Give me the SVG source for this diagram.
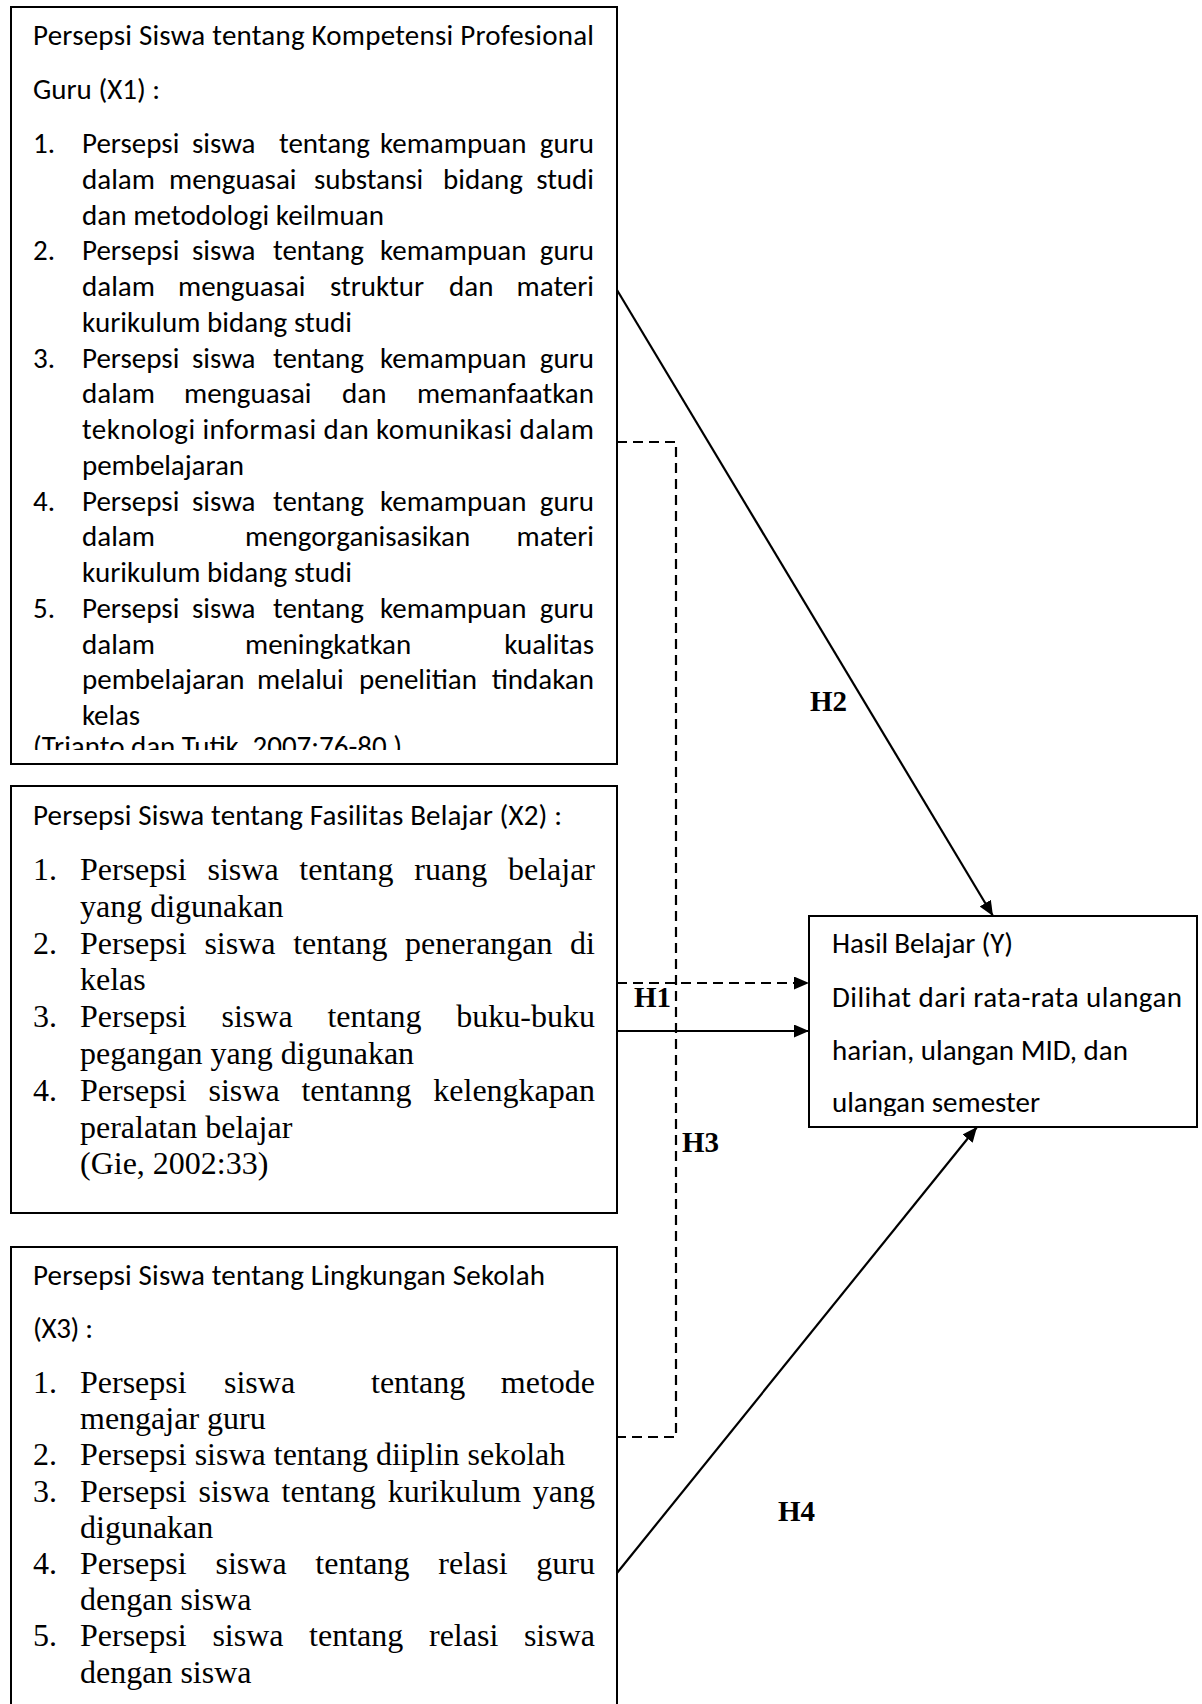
<svg xmlns="http://www.w3.org/2000/svg" width="1202" height="1704" viewBox="0 0 1202 1704">
<style>
.box{fill:#fff;stroke:#000;stroke-width:2}
.c{font-family:"Carlito","Lato","Liberation Sans",sans-serif;font-size:29px;fill:#000}
.t{font-family:"Liberation Serif","Times New Roman",serif;font-size:32px;fill:#000}
.e{text-anchor:end}
.lbl{font-family:"Liberation Serif","Times New Roman",serif;font-size:29px;font-weight:bold;fill:#000}
.ln{fill:none;stroke:#000;stroke-width:2.2}
.dash{stroke-dasharray:10 6}
</style>
<defs>
<marker id="arr" markerUnits="userSpaceOnUse" markerWidth="16" markerHeight="14" refX="15" refY="6.5" orient="auto">
<path d="M0,0 L15,6.5 L0,13 z" fill="#000"/>
</marker>
<clipPath id="clip1"><rect x="11" y="7" width="606" height="743"/></clipPath>
<clipPath id="clipY"><rect x="809" y="916" width="388" height="200"/></clipPath>
</defs>
<rect width="1202" height="1704" fill="#fff"/>

<g id="node-x1">
<rect class="box" x="11" y="7" width="606" height="757"/>
<text class="c" x="33" y="45" textLength="561" lengthAdjust="spacing">Persepsi Siswa tentang Kompetensi Profesional</text>
<text class="c" x="33" y="99" textLength="127" lengthAdjust="spacing">Guru (X1) :</text>
<text class="c" x="33" y="153">1.</text>
<text class="c" y="153"><tspan x="82">Persepsi</tspan><tspan x="192">siswa</tspan><tspan x="279">tentang</tspan><tspan x="380">kemampuan</tspan></text><text class="c e" x="594" y="153">guru</text>
<text class="c" y="188.75"><tspan x="82">dalam</tspan><tspan x="169">menguasai</tspan><tspan x="314">substansi</tspan><tspan x="443">bidang</tspan></text><text class="c e" x="594" y="188.75">studi</text>
<text class="c" x="82" y="224.5" textLength="302" lengthAdjust="spacing">dan metodologi keilmuan</text>
<text class="c" x="33" y="260.25">2.</text>
<text class="c" y="260.25"><tspan x="82">Persepsi</tspan><tspan x="192">siswa</tspan><tspan x="273">tentang</tspan><tspan x="380">kemampuan</tspan></text><text class="c e" x="594" y="260.25">guru</text>
<text class="c" y="296"><tspan x="82">dalam</tspan><tspan x="178">menguasai</tspan><tspan x="330">struktur</tspan><tspan x="449">dan</tspan></text><text class="c e" x="594" y="296">materi</text>
<text class="c" x="82" y="331.75" textLength="270" lengthAdjust="spacing">kurikulum bidang studi</text>
<text class="c" x="33" y="367.5">3.</text>
<text class="c" y="367.5"><tspan x="82">Persepsi</tspan><tspan x="192">siswa</tspan><tspan x="273">tentang</tspan><tspan x="380">kemampuan</tspan></text><text class="c e" x="594" y="367.5">guru</text>
<text class="c" y="403.25"><tspan x="82">dalam</tspan><tspan x="184">menguasai</tspan><tspan x="342">dan</tspan></text><text class="c e" x="594" y="403.25">memanfaatkan</text>
<text class="c" x="82" y="439" textLength="512" lengthAdjust="spacing">teknologi informasi dan komunikasi dalam</text>
<text class="c" x="82" y="474.75" textLength="162" lengthAdjust="spacing">pembelajaran</text>
<text class="c" x="33" y="510.5">4.</text>
<text class="c" y="510.5"><tspan x="82">Persepsi</tspan><tspan x="192">siswa</tspan><tspan x="273">tentang</tspan><tspan x="380">kemampuan</tspan></text><text class="c e" x="594" y="510.5">guru</text>
<text class="c" y="546.25"><tspan x="82">dalam</tspan><tspan x="245">mengorganisasikan</tspan></text><text class="c e" x="594" y="546.25">materi</text>
<text class="c" x="82" y="582" textLength="270" lengthAdjust="spacing">kurikulum bidang studi</text>
<text class="c" x="33" y="617.75">5.</text>
<text class="c" y="617.75"><tspan x="82">Persepsi</tspan><tspan x="192">siswa</tspan><tspan x="273">tentang</tspan><tspan x="380">kemampuan</tspan></text><text class="c e" x="594" y="617.75">guru</text>
<text class="c" y="653.5"><tspan x="82">dalam</tspan><tspan x="245">meningkatkan</tspan></text><text class="c e" x="594" y="653.5">kualitas</text>
<text class="c" y="689.25"><tspan x="82">pembelajaran</tspan><tspan x="257">melalui</tspan><tspan x="359">penelitian</tspan></text><text class="c e" x="594" y="689.25">tindakan</text>
<text class="c" x="82" y="725" textLength="58" lengthAdjust="spacing">kelas</text>
<text class="c" x="33" y="756" textLength="369" lengthAdjust="spacing" clip-path="url(#clip1)">(Trianto dan Tutik, 2007:76-80 )</text>
</g>

<g id="node-x2">
<rect class="box" x="11" y="786" width="606" height="427"/>
<text class="c" x="33" y="825" textLength="529" lengthAdjust="spacing">Persepsi Siswa tentang Fasilitas Belajar (X2) :</text>
<text class="t" x="33" y="880">1.</text>
<text class="t" y="880"><tspan x="80">Persepsi</tspan><tspan x="207.5">siswa</tspan><tspan x="299.3">tentang</tspan><tspan x="414.3">ruang</tspan></text><text class="t e" x="595" y="880">belajar</text>
<text class="t" x="80" y="916.8">yang digunakan</text>
<text class="t" x="33" y="953.6">2.</text>
<text class="t" y="953.6"><tspan x="80">Persepsi</tspan><tspan x="204.4">siswa</tspan><tspan x="293.2">tentang</tspan><tspan x="405.1">penerangan</tspan></text><text class="t e" x="595" y="953.6">di</text>
<text class="t" x="80" y="990.4">kelas</text>
<text class="t" x="33" y="1027.2">3.</text>
<text class="t" y="1027.2"><tspan x="80">Persepsi</tspan><tspan x="221.5">siswa</tspan><tspan x="327.4">tentang</tspan></text><text class="t e" x="595" y="1027.2">buku-buku</text>
<text class="t" x="80" y="1064">pegangan yang digunakan</text>
<text class="t" x="33" y="1100.8">4.</text>
<text class="t" y="1100.8"><tspan x="80">Persepsi</tspan><tspan x="208.5">siswa</tspan><tspan x="301.4">tentanng</tspan></text><text class="t e" x="595" y="1100.8">kelengkapan</text>
<text class="t" x="80" y="1137.6">peralatan belajar</text>
<text class="t" x="80" y="1174.4">(Gie, 2002:33)</text>
</g>

<g id="node-x3">
<rect class="box" x="11" y="1247" width="606" height="480"/>
<text class="c" x="33" y="1285" textLength="512" lengthAdjust="spacing">Persepsi Siswa tentang Lingkungan Sekolah</text>
<text class="c" x="33" y="1338" textLength="60" lengthAdjust="spacing">(X3) :</text>
<text class="t" x="33" y="1393">1.</text>
<text class="t" y="1393"><tspan x="80">Persepsi</tspan><tspan x="224">siswa</tspan><tspan x="371">tentang</tspan></text><text class="t e" x="595" y="1393">metode</text>
<text class="t" x="80" y="1429.2">mengajar guru</text>
<text class="t" x="33" y="1465.4">2.</text>
<text class="t" x="80" y="1465.4">Persepsi siswa tentang diiplin sekolah</text>
<text class="t" x="33" y="1501.6">3.</text>
<text class="t" y="1501.6"><tspan x="80">Persepsi</tspan><tspan x="198.6">siswa</tspan><tspan x="281.6">tentang</tspan><tspan x="387.7">kurikulum</tspan></text><text class="t e" x="595" y="1501.6">yang</text>
<text class="t" x="80" y="1537.8">digunakan</text>
<text class="t" x="33" y="1574">4.</text>
<text class="t" y="1574"><tspan x="80">Persepsi</tspan><tspan x="215.5">siswa</tspan><tspan x="315.3">tentang</tspan><tspan x="438.3">relasi</tspan></text><text class="t e" x="595" y="1574">guru</text>
<text class="t" x="80" y="1610.2">dengan siswa</text>
<text class="t" x="33" y="1646.4">5.</text>
<text class="t" y="1646.4"><tspan x="80">Persepsi</tspan><tspan x="212.4">siswa</tspan><tspan x="309.1">tentang</tspan><tspan x="429">relasi</tspan></text><text class="t e" x="595" y="1646.4">siswa</text>
<text class="t" x="80" y="1682.6">dengan siswa</text>
</g>

<g id="node-y">
<rect class="box" x="809" y="916" width="388" height="211"/>
<text class="c" x="832" y="953" textLength="181" lengthAdjust="spacing">Hasil Belajar (Y)</text>
<text class="c" x="832" y="1007" textLength="350" lengthAdjust="spacing">Dilihat dari rata-rata ulangan</text>
<text class="c" x="832" y="1060" textLength="296" lengthAdjust="spacing">harian, ulangan MID, dan</text>
<text class="c" x="832" y="1112" textLength="208" lengthAdjust="spacing" clip-path="url(#clipY)">ulangan semester</text>
</g>

<g id="connectors">
<line class="ln" x1="617" y1="290" x2="993" y2="916" marker-end="url(#arr)"/>
<polyline class="ln dash" points="617,442 676,442 676,1437 617,1437"/>
<line class="ln dash" x1="617" y1="983" x2="809" y2="983" marker-end="url(#arr)"/>
<line class="ln" x1="617" y1="1031" x2="809" y2="1031" marker-end="url(#arr)"/>
<line class="ln" x1="617" y1="1573" x2="977" y2="1127" marker-end="url(#arr)"/>
<text class="lbl" x="634" y="1007">H1</text>
<text class="lbl" x="810" y="711">H2</text>
<text class="lbl" x="682" y="1152">H3</text>
<text class="lbl" x="778" y="1521">H4</text>
</g>
</svg>
